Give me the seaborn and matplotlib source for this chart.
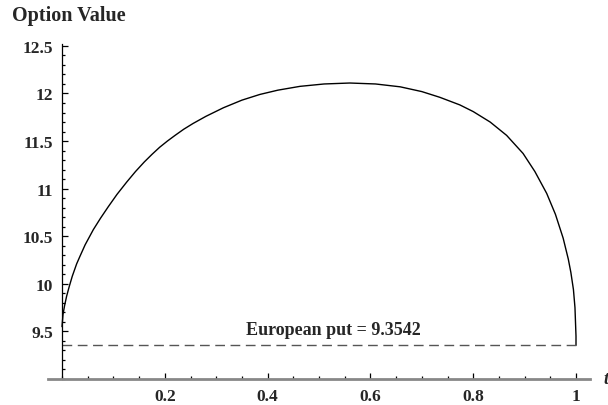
import numpy as np
import pandas as pd
import seaborn as sns
import matplotlib.pyplot as plt
from matplotlib.ticker import MultipleLocator, FixedLocator

# values
t_values = [0, 0.002, 0.005, 0.009, 0.014, 0.02, 0.0285, 0.035, 0.045, 0.061,
            0.075, 0.09, 0.107, 0.126, 0.143, 0.16, 0.175, 0.19, 0.205, 0.22,
            0.237, 0.255, 0.28, 0.314, 0.35, 0.385, 0.42, 0.463, 0.51, 0.56,
            0.61, 0.658, 0.70, 0.735, 0.774, 0.80, 0.833, 0.865, 0.897, 0.92,
            0.943, 0.96, 0.975, 0.985, 0.99, 0.995, 0.998, 1.0, 1.0]
option_values = [9.55, 9.68, 9.77, 9.87, 9.97, 10.08, 10.21, 10.29, 10.41, 10.57,
                 10.69, 10.81, 10.94, 11.07, 11.18, 11.28, 11.36, 11.435, 11.50, 11.56,
                 11.625, 11.685, 11.76, 11.85, 11.93, 11.99, 12.035, 12.075, 12.10, 12.11,
                 12.10, 12.07, 12.02, 11.96, 11.88, 11.81, 11.70, 11.56, 11.37, 11.18,
                 10.95, 10.73, 10.48, 10.26, 10.12, 9.94, 9.75, 9.45, 9.3542]
european_put = 9.3542
put_t = [0, 1]
x_ticks = [0.2, 0.4, 0.6, 0.8, 1.0]
x_labels = ['0.2', '0.4', '0.6', '0.8', '1']
y_ticks = [9.5, 10, 10.5, 11, 11.5, 12, 12.5]
y_labels = ['9.5', '10', '10.5', '11', '11.5', '12', '12.5']

sns.set_style('white')
plt.rcParams['font.family'] = ['Liberation Serif', 'DejaVu Serif']
plt.rcParams['font.weight'] = 'bold'

fig = plt.figure(figsize=(6.08, 4.06), dpi=100)
ax = fig.add_axes([48 / 608, 1 - 380 / 406, 542 / 608, 335 / 406])

df = pd.DataFrame({'t': t_values, 'value': option_values})
sns.lineplot(data=df, x='t', y='value', ax=ax, color='black', linewidth=1.0,
             sort=False, estimator=None)

put_df = pd.DataFrame({'t': put_t, 'value': [european_put] * len(put_t)})
sns.lineplot(data=put_df, x='t', y='value', ax=ax, color='#555555', linewidth=1.0,
             dashes=False, linestyle=(0, (7, 4)))

ax.text(0.527, european_put + 0.08, f'European put = {european_put}', ha='center',
        va='bottom', fontsize=13, fontweight='bold')

ax.set_xlim(-14 / 514, 528 / 514)
ax.set_ylim(9.0, 12.52)

for side in ['top', 'right']:
    ax.spines[side].set_visible(False)
ax.spines['left'].set_position(('data', 0))
ax.spines['left'].set_color('black')
ax.spines['left'].set_linewidth(0.9)
ax.spines['bottom'].set_color('#888888')
ax.spines['bottom'].set_linewidth(2.0)

ax.xaxis.set_major_locator(FixedLocator(x_ticks))
ax.set_xticklabels(x_labels)
ax.xaxis.set_minor_locator(FixedLocator([i * 0.05 for i in range(21)]))
ax.yaxis.set_major_locator(FixedLocator(y_ticks))
ax.set_yticklabels(y_labels)
ax.yaxis.set_minor_locator(MultipleLocator(0.1))

ax.tick_params(axis='both', which='both', direction='in', color='black',
               bottom=True, left=True, width=0.9)
ax.tick_params(axis='both', which='major', length=4.5, pad=6.5, labelsize=12.5)
ax.tick_params(axis='both', which='minor', length=2.5)
for lab in ax.get_xticklabels() + ax.get_yticklabels():
    lab.set_fontweight('bold')

ax.set_xlabel('')
ax.set_ylabel('')
ax.text(1.053, 9.0, 't', style='italic', fontweight='bold', fontsize=13,
        ha='left', va='center', clip_on=False)

fig.text(12 / 608, 1 - 16 / 406, 'Option Value', fontsize=14.5, fontweight='bold',
         ha='left', va='center')

fig.savefig('out.png', dpi=100)
